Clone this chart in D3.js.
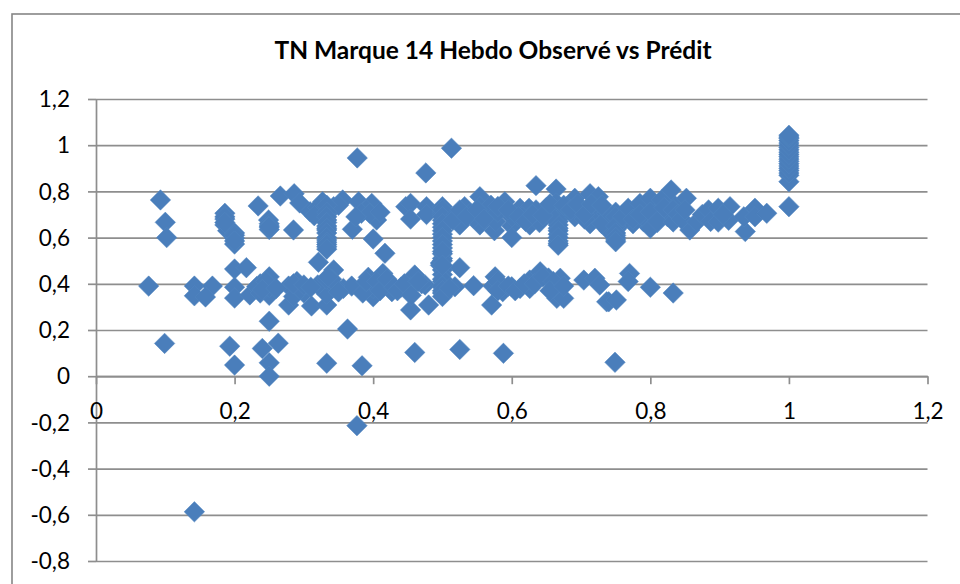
<!DOCTYPE html>
<html><head><meta charset="utf-8">
<script src="https://cdn.jsdelivr.net/npm/d3@7"></script>
<style>html,body{margin:0;padding:0;background:#fff;overflow:hidden}svg{display:block}</style>
</head><body><svg id="c" width="960" height="584"></svg>
<script>
const chartTitle = "TN Marque 14 Hebdo Observé vs Prédit";
const xTicks = [0,0.2,0.4,0.6,0.8,1,1.2];
const yTicks = [-0.8,-0.6,-0.4,-0.2,0,0.2,0.4,0.6,0.8,1,1.2];

// x = predicted, y = observed, region by region
const outlierX = [.093,.100,.102,.076,.099,.193,.2,.24,.263,.25,.25,.333,.384,.363,.377,.3766,.142,.46,.525,.588,.749,.513,.476,.25];
const outlierY = [.763,.666,.60,.39,.142,.13,.048,.12,.143,.058,0,.056,.045,.204,.945,-.214,-.587,.103,.116,.099,.06,.987,.88,.238];

const lowerX = [.142,.142,.168,.158,.2,.217,.2,.2,.222,.237,.25,.232,.25,.237,.25,.278,.29,.278,.30,.311,.333,.333,.343,.321,.357,.369,.40,.393,.285,.295,.333,.32,.345,
 .414,.414,.427,.44,.46,.454,.475,.454,.48,.5,.5,.497,.47,.525,.497,.518,.545,.5,.576,.571,.573,.587,.60,.612,.626,.626,.641,.653,.67,.662,.665,.675,.704,.72,.727,.737,.74,.751,.77,.768,.80,.833,.333,.40,.385,.39];
const lowerY = [.39,.348,.39,.343,.464,.47,.385,.338,.352,.40,.43,.388,.35,.36,.385,.39,.41,.308,.36,.304,.308,.385,.46,.493,.38,.39,.344,.428,.345,.375,.355,.395,.39,
 .445,.40,.366,.385,.438,.385,.395,.287,.308,.36,.41,.48,.40,.47,.49,.387,.392,.385,.43,.308,.39,.366,.387,.38,.416,.38,.452,.425,.424,.39,.337,.337,.416,.424,.395,.322,.322,.33,.445,.41,.385,.36,.42,.38,.36,.41];

const lowerFillX = [.245,.24,.26,.285,.30,.31,.34,.335,.35,.405,.41,.42,.43,.435,.445,.465,.455,.5,.5,.5,.5,.5,.5,.51,.58,.58,.595,.605,.618,.633,.645,.66,.655,.675];
const lowerFillY = [.41,.375,.38,.40,.395,.385,.42,.43,.365,.41,.37,.42,.385,.37,.40,.41,.35,.46,.44,.42,.39,.37,.345,.38,.41,.37,.39,.37,.40,.40,.43,.41,.37,.39];

const upperLeftX = [.186,.186,.186,.19,.2,.2,.2,.234,.249,.25,.25,.266,.286,.285,.294,.309,.327,.333,.333,.333,.333,.333,.333,.333,.356,.343,.379,.398,.39,.383,.405,.395,.37,.40,.417,.447,.454,.454,.477,.477,.32,.315,.35,.41,.375];
const upperLeftY = [.705,.68,.655,.63,.62,.597,.572,.737,.676,.66,.635,.78,.79,.633,.75,.712,.755,.72,.70,.676,.633,.59,.56,.65,.763,.734,.755,.748,.72,.705,.676,.705,.636,.594,.532,.734,.748,.68,.734,.70,.73,.695,.74,.71,.69];

const columnFillX = [.186,.186,.2,.2,.25,.25,.333,.333,.333,.333,.333,.333,.333,.333,.333,.333,.5,.5,.5,.5,.5,.5,.5,.5,.5,.5,.667,.667,.667,.667,.667,.667,.667,.667,.75,.75,.75,.75,.75,1,1,1,1,1,1,1,1,1];
const columnFillY = [.69,.665,.61,.585,.65,.645,.74,.71,.69,.665,.64,.62,.60,.58,.57,.55,.71,.70,.675,.645,.615,.585,.555,.53,.51,.50,.74,.72,.69,.67,.64,.615,.585,.575,.71,.675,.635,.61,.59,.87,.89,.91,.93,.95,.97,.99,1.01,1.03];

const upperMidX = [.5,.5,.5,.5,.5,.5,.5,.5,.5,.532,.525,.554,.554,.554,.54,.575,.565,.577,.59,.60,.60,.60,.612,.625,.626,.64,.635,.65,.664,.664,.667,.667,.667,.667,.667,.667,.691,.691,.713,.713,.725,.722,.737,.74,.52,.515,.545,.57,.58,.615,.635,.655,.68,.70,.705,.73];
const upperMidY = [.734,.72,.69,.66,.63,.60,.57,.54,.48,.734,.655,.777,.734,.655,.705,.63,.70,.67,.755,.65,.69,.60,.727,.727,.655,.665,.825,.73,.81,.75,.705,.68,.655,.63,.60,.567,.77,.69,.79,.66,.777,.69,.705,.63,.70,.675,.685,.74,.71,.69,.72,.70,.735,.72,.68,.66];

const bandFillX = [.525,.535,.55,.56,.58,.595,.61,.62,.63,.645,.655,.675,.685,.695,.705,.715,.73,.745,.76,.77,.78,.79,.805,.815,.825,.835,.84,.795,.775,.81,.825,.76,.79];
const bandFillY = [.72,.69,.72,.68,.735,.72,.69,.67,.70,.695,.745,.74,.72,.745,.70,.745,.74,.695,.70,.70,.72,.67,.735,.70,.76,.74,.695,.745,.66,.665,.69,.665,.69];

const upperRightX = [.75,.75,.75,.75,.75,.76,.768,.775,.785,.785,.80,.80,.80,.81,.816,.82,.83,.833,.833,.84,.852,.857,.845,.85,.867,.875,.884,.887,.898,.898,.915,.913,.905,.937,.935,.951,.951,.968,
 1,1,1,1,1,1,1,1,1,1,1,1];
const upperRightY = [.69,.65,.62,.60,.582,.69,.727,.68,.748,.70,.77,.64,.71,.67,.763,.73,.806,.668,.72,.70,.77,.633,.68,.72,.668,.70,.72,.67,.727,.667,.734,.675,.70,.626,.69,.727,.69,.705,
 .734,.842,.88,.90,.92,.94,.96,.98,1,1.02,1.035,1.043];

const predicted = [...outlierX,...lowerX,...lowerFillX,...upperLeftX,...columnFillX,...upperMidX,...bandFillX,...upperRightX];
const observed  = [...outlierY,...lowerY,...lowerFillY,...upperLeftY,...columnFillY,...upperMidY,...bandFillY,...upperRightY];

const svg = d3.select("#c");
const x = d3.scaleLinear().domain([0,1.2]).range([96,927.5]);
const y = d3.scaleLinear().domain([-0.8,1.2]).range([561,99]);
const fmt = d => String(+d.toFixed(1)).replace(".",",");
const GRID = "#8e8e8e", FONT = "Lato, Carlito, sans-serif";

svg.append("rect").attr("x",12).attr("y",14).attr("width",1000).attr("height",700)
  .attr("fill","#fff").attr("stroke","#868686").attr("stroke-width",1.6);

svg.append("text").attr("x",493).attr("y",59).attr("text-anchor","middle")
  .attr("font-family",FONT).attr("font-weight",700).attr("font-size",24.5).attr("fill","#000").text(chartTitle);

const gy = svg.append("g").attr("transform","translate(96,0)")
  .call(d3.axisLeft(y).tickValues(yTicks).tickFormat(fmt).tickSize(8).tickSizeOuter(0));
gy.selectAll(".tick").append("line").attr("x1",0).attr("x2",831.5).attr("y1",0).attr("y2",0);
gy.selectAll(".tick text").attr("x",-26).attr("dy","0.34em").attr("font-size",22.5).attr("font-family",FONT).attr("fill","#000");

const gx = svg.append("g").attr("transform",`translate(0,${y(0)})`)
  .call(d3.axisBottom(x).tickValues(xTicks).tickFormat(fmt).tickSize(8).tickSizeOuter(0));
gx.selectAll(".tick text").attr("y",43).attr("dy","0").attr("font-size",22.5).attr("font-family",FONT).attr("fill","#000");

[gy,gx].forEach(g=>{
  g.select(".domain").attr("stroke",GRID).attr("stroke-width",1.7);
  g.selectAll(".tick line").attr("stroke",GRID).attr("stroke-width",1.7);
});

const diamond = {draw(ctx,size){const r=Math.sqrt(size);ctx.moveTo(0,-r);ctx.lineTo(r,0);ctx.lineTo(0,r);ctx.lineTo(-r,0);ctx.closePath();}};
const sym = d3.symbol().type(diamond).size(105);

svg.append("g").selectAll("path").data(d3.range(predicted.length)).join("path")
  .attr("d",sym)
  .attr("transform",i=>`translate(${x(predicted[i])},${y(observed[i])})`)
  .attr("fill","#4a7ebb").attr("stroke","#5286c0").attr("stroke-width",0.5);
</script></body></html>
